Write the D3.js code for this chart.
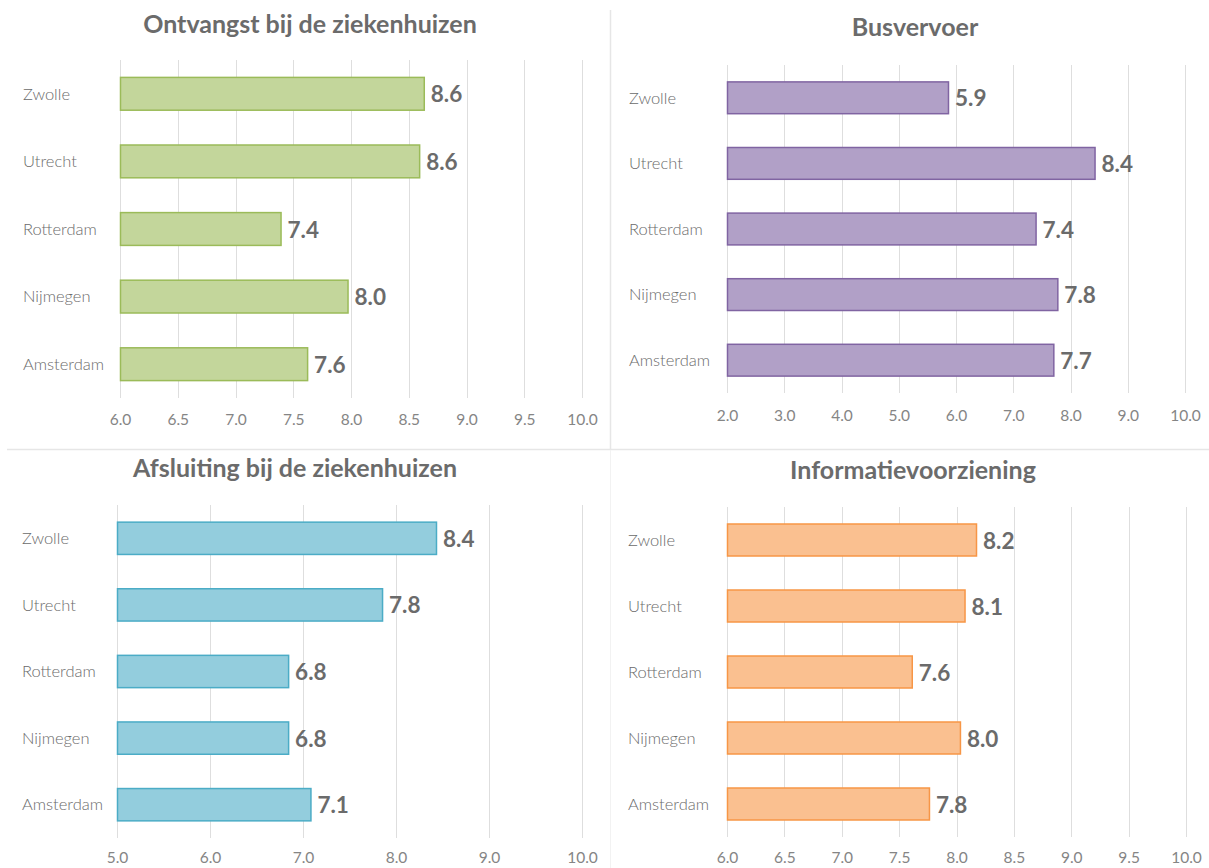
<!DOCTYPE html>
<html>
<head>
<meta charset="utf-8">
<script src="https://cdn.jsdelivr.net/npm/d3@7"></script>
<style>
  body { margin: 0; background: #fff; }
  svg { display: block; font-family: Lato, "Open Sans", sans-serif; }
</style>
</head>
<body>
<div id="container"></div>
<script>
// categories, top to bottom
var cities = ["Zwolle", "Utrecht", "Rotterdam", "Nijmegen", "Amsterdam"];

var titles = ["Ontvangst bij de ziekenhuizen", "Busvervoer", "Afsluiting bij de ziekenhuizen", "Informatievoorziening"];

// scores per city (same order as cities)
var ontvangst = [8.63, 8.59, 7.39, 7.97, 7.62];
var busvervoer = [5.86, 8.42, 7.39, 7.77, 7.70];
var afsluiting = [8.43, 7.85, 6.84, 6.84, 7.08];
var informatie = [8.17, 8.07, 7.61, 8.03, 7.76];

// axis ticks
var ticksHalf = [6.0, 6.5, 7.0, 7.5, 8.0, 8.5, 9.0, 9.5, 10.0];
var ticksBus = [2.0, 3.0, 4.0, 5.0, 6.0, 7.0, 8.0, 9.0, 10.0];
var ticksAfs = [5.0, 6.0, 7.0, 8.0, 9.0, 10.0];

var width = 1209, height = 868;

var svg = d3.select("#container").append("svg")
    .attr("width", width)
    .attr("height", height);

// panel dividers
svg.append("line")
    .attr("x1", 7).attr("x2", width)
    .attr("y1", 449.5).attr("y2", 449.5)
    .attr("stroke", "#e6e6e6").attr("stroke-width", 1.5);
svg.append("line")
    .attr("x1", 610.5).attr("x2", 610.5)
    .attr("y1", 10).attr("y2", 449)
    .attr("stroke", "#e6e6e6").attr("stroke-width", 1.5);
svg.append("line")
    .attr("x1", 610.5).attr("x2", 610.5)
    .attr("y1", 450).attr("y2", height)
    .attr("stroke", "#f2f2f2").attr("stroke-width", 1);

var panels = [
  { title: titles[0], values: ontvangst, ticks: ticksHalf, fill: "#c3d69b", stroke: "#9bbb59",
    x0: 120, x1: 582, y0: 60, y1: 398, labelX: 23, tickY: 426, titleX: 310, titleY: 33 },
  { title: titles[1], values: busvervoer, ticks: ticksBus, fill: "#b1a0c7", stroke: "#8064a2",
    x0: 727, x1: 1185, y0: 65, y1: 393, labelX: 629, tickY: 422, titleX: 915, titleY: 36 },
  { title: titles[2], values: afsluiting, ticks: ticksAfs, fill: "#93cddd", stroke: "#4bacc6",
    x0: 117, x1: 582, y0: 505, y1: 838, labelX: 22, tickY: 864, titleX: 295, titleY: 477 },
  { title: titles[3], values: informatie, ticks: ticksHalf, fill: "#fac090", stroke: "#f79646",
    x0: 727, x1: 1186, y0: 507, y1: 837, labelX: 628, tickY: 864, titleX: 913, titleY: 479 }
];

panels.forEach(function(p) {
  var g = svg.append("g");

  var x = d3.scaleLinear()
      .domain([p.ticks[0], p.ticks[p.ticks.length - 1]])
      .range([p.x0, p.x1]);

  var y = d3.scaleBand()
      .domain(cities)
      .range([p.y0, p.y1])
      .paddingInner(0.5)
      .paddingOuter(0.25);

  // title
  g.append("text")
      .attr("x", p.titleX)
      .attr("y", p.titleY)
      .attr("text-anchor", "middle")
      .attr("font-size", "25px")
      .attr("font-weight", "bold")
      .attr("fill", "#6b6b6b")
      .text(p.title);

  // gridlines
  g.selectAll(".grid")
      .data(p.ticks)
      .enter().append("line")
      .attr("x1", function(d) { return Math.round(x(d)) + 0.5; })
      .attr("x2", function(d) { return Math.round(x(d)) + 0.5; })
      .attr("y1", p.y0)
      .attr("y2", p.y1)
      .attr("stroke", "#dedede")
      .attr("stroke-width", 1);

  // tick labels
  var axis = d3.axisBottom(x).tickValues(p.ticks).tickFormat(d3.format(".1f")).tickSize(0);
  var ax = g.append("g")
      .attr("transform", "translate(0," + (p.tickY - 15) + ")")
      .call(axis);
  ax.select(".domain").remove();
  ax.selectAll("text")
      .attr("font-family", "Lato, 'Open Sans', sans-serif")
      .attr("font-size", "15.5px")
      .attr("fill", "#858585");

  // category labels
  g.selectAll(".cat")
      .data(cities)
      .enter().append("text")
      .attr("x", p.labelX)
      .attr("y", function(d) { return y(d) + y.bandwidth() / 2; })
      .attr("dy", "0.35em")
      .attr("font-size", "16.5px")
      .attr("font-weight", 300)
      .attr("fill", "#6b6b6b")
      .text(function(d) { return d; });

  // bars
  g.selectAll(".bar")
      .data(p.values)
      .enter().append("rect")
      .attr("x", x(p.ticks[0]) + 0.5)
      .attr("y", function(d, i) { return y(cities[i]) + 0.5; })
      .attr("width", function(d) { return x(d) - x(p.ticks[0]); })
      .attr("height", y.bandwidth() - 1)
      .attr("fill", p.fill)
      .attr("stroke", p.stroke)
      .attr("stroke-width", 1.5);

  // value labels
  g.selectAll(".val")
      .data(p.values)
      .enter().append("text")
      .attr("x", function(d) { return x(d) + 7; })
      .attr("y", function(d, i) { return y(cities[i]) + y.bandwidth() / 2; })
      .attr("dy", "0.38em")
      .attr("font-size", "22.5px")
      .attr("font-weight", "bold")
      .attr("fill", "#6b6b6b")
      .text(function(d) { return d3.format(".1f")(d); });
});
</script>
</body>
</html>
